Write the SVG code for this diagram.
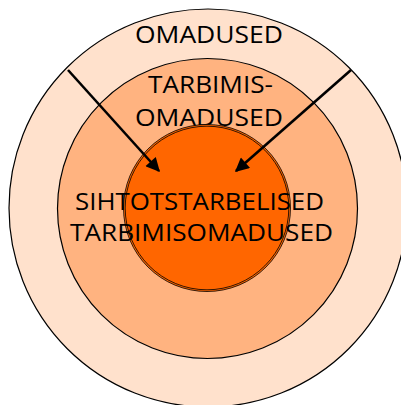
<svg xmlns="http://www.w3.org/2000/svg" width="401" height="405" viewBox="0 0 401 405">
  <style>
    .ring { stroke: #000; stroke-width: 1.2; }
    .lbl { font-family: "Open Sans", "Noto Sans", "Liberation Sans", sans-serif; font-size: 24px; fill: #000; text-anchor: middle; }
    .arrow { stroke: #000; stroke-width: 2.6; fill: none; marker-end: url(#head); }
  </style>
  <defs>
    <marker id="head" viewBox="0 0 10 10" refX="9" refY="5" markerUnits="userSpaceOnUse" markerWidth="20" markerHeight="14" orient="auto">
      <path d="M0,0 L10,5 L0,10 Z" fill="#000"/>
    </marker>
  </defs>

  <g id="omadused">
    <circle class="ring" cx="208" cy="208" r="199" fill="#FFE1CC"/>
    <text class="lbl" x="209" y="43" textLength="148" lengthAdjust="spacingAndGlyphs">OMADUSED</text>
  </g>

  <g id="tarbimisomadused">
    <circle class="ring" cx="207.5" cy="208.5" r="150" fill="#FFB380"/>
    <text class="lbl" x="210.5" y="93" textLength="125" lengthAdjust="spacingAndGlyphs">TARBIMIS-</text>
    <text class="lbl" x="209" y="126" textLength="148" lengthAdjust="spacingAndGlyphs">OMADUSED</text>
  </g>

  <g id="sihtotstarbelised">
    <circle cx="207" cy="208" r="83.5" fill="#FF6600" stroke="#000" stroke-width="0.8"/>
    <circle cx="207" cy="208" r="81.8" fill="none" stroke="#000" stroke-width="0.8"/>
    <text class="lbl" x="199.5" y="210" textLength="249" lengthAdjust="spacingAndGlyphs">SIHTOTSTARBELISED</text>
    <text class="lbl" x="201.5" y="241" textLength="263" lengthAdjust="spacingAndGlyphs">TARBIMISOMADUSED</text>
  </g>

  <g id="connectors">
    <line class="arrow" x1="68" y1="70" x2="159" y2="171"/>
    <line class="arrow" x1="351" y1="70" x2="236" y2="171"/>
  </g>
</svg>
